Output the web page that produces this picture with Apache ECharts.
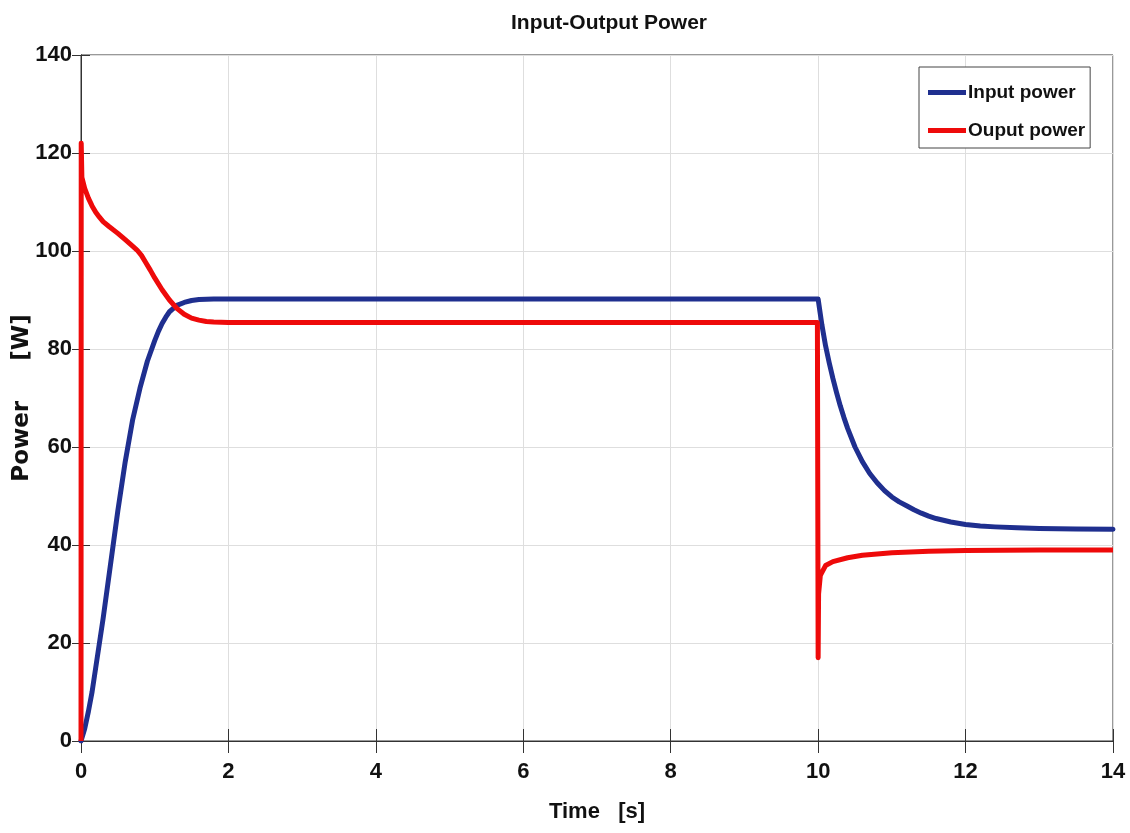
<!DOCTYPE html>
<html>
<head>
<meta charset="utf-8">
<script src="https://cdn.jsdelivr.net/npm/echarts@6/dist/echarts.min.js"></script>
<style>html,body{margin:0;padding:0;background:#fff}#c{width:1130px;height:833px}</style>
</head>
<body>
<div id="c"></div>
<script>
// Data (time in s, power in W)
const seriesNames = ['Input power', 'Ouput power'];
const xTicks = [0, 2, 4, 6, 8, 10, 12, 14];
const yTicks = [0, 20, 40, 60, 80, 100, 120, 140];

const inputTime = [0, 0.05, 0.1, 0.15, 0.2, 0.25, 0.3, 0.4, 0.5, 0.6, 0.7, 0.8, 0.9, 1.0, 1.05, 1.1, 1.15, 1.2, 1.3, 1.4, 1.5, 1.6, 1.8, 2.0, 10.0,
  10.05, 10.1, 10.15, 10.2, 10.25, 10.3, 10.35, 10.4, 10.5, 10.6, 10.7, 10.8, 10.9, 11.0, 11.1, 11.2, 11.3, 11.4, 11.5, 11.6, 11.8, 12.0, 12.2, 12.4, 12.7, 13.0, 13.5, 14.0];
const inputPower = [0, 2.5, 6, 10, 15, 20, 25, 36, 47, 57, 65.5, 72, 77.5, 81.7, 83.6, 85.2, 86.5, 87.6, 88.9, 89.5, 89.9, 90.1, 90.2, 90.2, 90.2,
  85, 80.7, 77.2, 74.0, 71.1, 68.4, 66.0, 63.8, 60.0, 57.0, 54.6, 52.7, 51.1, 49.8, 48.8, 48.0, 47.2, 46.5, 45.9, 45.4, 44.7, 44.2, 43.9, 43.7, 43.5, 43.35, 43.25, 43.2];

const outputTime = [0, 0.003, 0.012, 0.05, 0.1, 0.15, 0.2, 0.25, 0.3, 0.38, 0.5, 0.6, 0.7, 0.76, 0.82, 0.88, 0.94, 1.0, 1.1, 1.2, 1.3, 1.4, 1.5, 1.6, 1.7, 1.8, 2.0, 9.99,
  10.0, 10.006, 10.03, 10.1, 10.2, 10.4, 10.6, 11.0, 11.5, 12.0, 13.0, 14.0];
const outputPower = [0, 122, 115, 112.8, 110.8, 109.2, 107.9, 106.9, 106.0, 105.0, 103.6, 102.3, 101.0, 100.2, 99.1, 97.6, 96.1, 94.5, 92.1, 90.0, 88.3, 87.1, 86.3, 85.9, 85.6, 85.5, 85.4, 85.4,
  17, 30, 33.8, 35.8, 36.6, 37.4, 37.9, 38.4, 38.7, 38.9, 39, 39];

const pairs = (xs, ys) => xs.map((x, i) => [x, ys[i]]);

const FONT = '"Liberation Sans", Arial, sans-serif';
const gridColor = '#dedede';
const axisColor = '#333';

const baseX = {
  type: 'value', min: xTicks[0], max: xTicks[xTicks.length - 1], interval: 2
};
const baseY = {
  type: 'value', min: yTicks[0], max: yTicks[yTicks.length - 1], interval: 20
};

const chart = echarts.init(document.getElementById('c'), null, { renderer: 'canvas' });
chart.setOption({
  animation: false,
  backgroundColor: '#fff',
  title: {
    text: 'Input-Output Power',
    left: 604, top: 8, textAlign: 'center',
    textStyle: { fontFamily: FONT, fontWeight: 'bold', fontSize: 21, color: '#111' }
  },
  grid: {
    left: 81, top: 55, right: 17, bottom: 92, containLabel: false, outerBoundsMode: 'none',
    show: true, borderColor: axisColor, borderWidth: 1, backgroundColor: 'transparent'
  },
  legend: {
    data: seriesNames,
    orient: 'vertical', left: 919, top: 67,
    padding: [16, 5, 8, 9], itemGap: 19,
    itemWidth: 38, itemHeight: 5, icon: 'rect',
    backgroundColor: '#fff', borderColor: '#444', borderWidth: 1, borderRadius: 0,
    textStyle: { fontFamily: FONT, fontWeight: 'bold', fontSize: 19, color: '#111', padding: [0, 0, 0, -3] }
  },
  xAxis: [
    Object.assign({}, baseX, {
      position: 'bottom',
      name: 'Time   [s]', nameLocation: 'middle', nameGap: 60, nameMoveOverlap: false,
      nameTextStyle: { fontFamily: FONT, fontWeight: 'bold', fontSize: 22, color: '#111' },
      axisLine: { show: true, onZero: false, lineStyle: { color: axisColor, width: 1 } },
      axisTick: { show: true, inside: true, length: 12, lineStyle: { color: axisColor } },
      axisLabel: { margin: 20, fontFamily: FONT, fontWeight: 'bold', fontSize: 22, color: '#111' },
      splitLine: { show: true, lineStyle: { color: gridColor, width: 1 } }
    }),
    Object.assign({}, baseX, {
      position: 'top',
      axisLine: { show: true, lineStyle: { color: axisColor, width: 1 } },
      axisTick: { show: true, inside: true, length: 12, lineStyle: { color: axisColor } },
      axisLabel: { show: false }, splitLine: { show: false }
    })
  ],
  yAxis: [
    Object.assign({}, baseY, {
      position: 'left',
      name: 'Power     [W]', nameLocation: 'middle', nameGap: 47, nameRotate: 90, nameMoveOverlap: false,
      nameTextStyle: { fontFamily: '"DejaVu Sans", sans-serif', fontWeight: 'bold', fontSize: 23, color: '#111' },
      axisLine: { show: true, onZero: false, lineStyle: { color: axisColor, width: 1 } },
      axisTick: { show: true, inside: true, length: 9, lineStyle: { color: axisColor } },
      axisLabel: { margin: 9, fontFamily: FONT, fontWeight: 'bold', fontSize: 22, color: '#111' },
      splitLine: { show: true, lineStyle: { color: gridColor, width: 1 } }
    }),
    Object.assign({}, baseY, {
      position: 'right',
      axisLine: { show: true, lineStyle: { color: axisColor, width: 1 } },
      axisTick: { show: true, inside: true, length: 9, lineStyle: { color: axisColor } },
      axisLabel: { show: false }, splitLine: { show: false }
    })
  ],
  series: [
    {
      name: seriesNames[0], type: 'line', xAxisIndex: 0, yAxisIndex: 0,
      data: pairs(inputTime, inputPower),
      showSymbol: false, symbol: 'none', smooth: false,
      lineStyle: { color: '#1f2f8f', width: 5, cap: 'round', join: 'round' },
      itemStyle: { color: '#1f2f8f' }
    },
    {
      name: seriesNames[1], type: 'line', xAxisIndex: 0, yAxisIndex: 0,
      data: pairs(outputTime, outputPower),
      showSymbol: false, symbol: 'none', smooth: false,
      lineStyle: { color: '#ee0a0a', width: 5, cap: 'butt', join: 'round' },
      itemStyle: { color: '#ee0a0a' }
    }
  ]
});
</script>
</body>
</html>
